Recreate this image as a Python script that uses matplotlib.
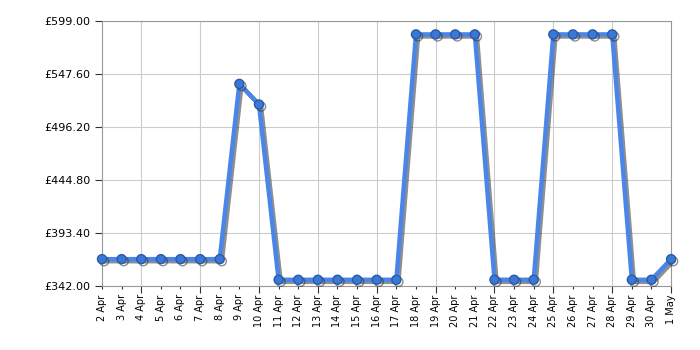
import numpy as np
import matplotlib
matplotlib.use("Agg")
import matplotlib.pyplot as plt
import matplotlib.patheffects as pe

dates = ["2 Apr", "3 Apr", "4 Apr", "5 Apr", "6 Apr", "7 Apr", "8 Apr", "9 Apr",
         "10 Apr", "11 Apr", "12 Apr", "13 Apr", "14 Apr", "15 Apr", "16 Apr",
         "17 Apr", "18 Apr", "19 Apr", "20 Apr", "21 Apr", "22 Apr", "23 Apr",
         "24 Apr", "25 Apr", "26 Apr", "27 Apr", "28 Apr", "29 Apr", "30 Apr", "1 May"]
prices = [368, 368, 368, 368, 368, 368, 368, 538, 518, 348, 348, 348, 348, 348, 348,
          348, 586, 586, 586, 586, 348, 348, 348, 586, 586, 586, 586, 348, 348, 368]
yticks = [342.00, 393.40, 444.80, 496.20, 547.60, 599.00]

x = np.arange(len(dates))

fig = plt.figure(figsize=(7, 3.5), dpi=100)
ax = fig.add_axes([0.1457, 0.183, 0.813, 0.757])

ax.plot(x, prices, color="#4a86e8", lw=3.2, marker="o", ms=6.5,
        mfc="#3a78d8", mec="#2a5aa8", mew=1, zorder=3, clip_on=False,
        path_effects=[pe.SimpleLineShadow(offset=(1.5, -1.5), shadow_color="#333333", alpha=0.55),
                      pe.Normal()])

ax.set_xlim(0, len(dates) - 1)
ax.set_ylim(yticks[0], yticks[-1])
ax.set_yticks(yticks)
ax.set_yticklabels(["£%.2f" % v for v in yticks], fontsize=8)

ax.set_xticks(x)
ax.set_xticklabels(dates, rotation=90, fontsize=7)
ax.tick_params(axis="x", length=2, color="#333333", pad=4)
ax.tick_params(axis="y", length=5, color="#333333")
for i, t in enumerate(ax.xaxis.get_major_ticks()):
    if i % 3 == 2:
        t.tick1line.set_markersize(5)

ax.grid(True, axis="y", color="#cccccc", lw=0.8)
for xv in x[2::3]:
    ax.axvline(xv, color="#cccccc", lw=0.8, zorder=0.5)
for s in ax.spines.values():
    s.set_color("#999999")

fig.savefig("out.png", dpi=100)
